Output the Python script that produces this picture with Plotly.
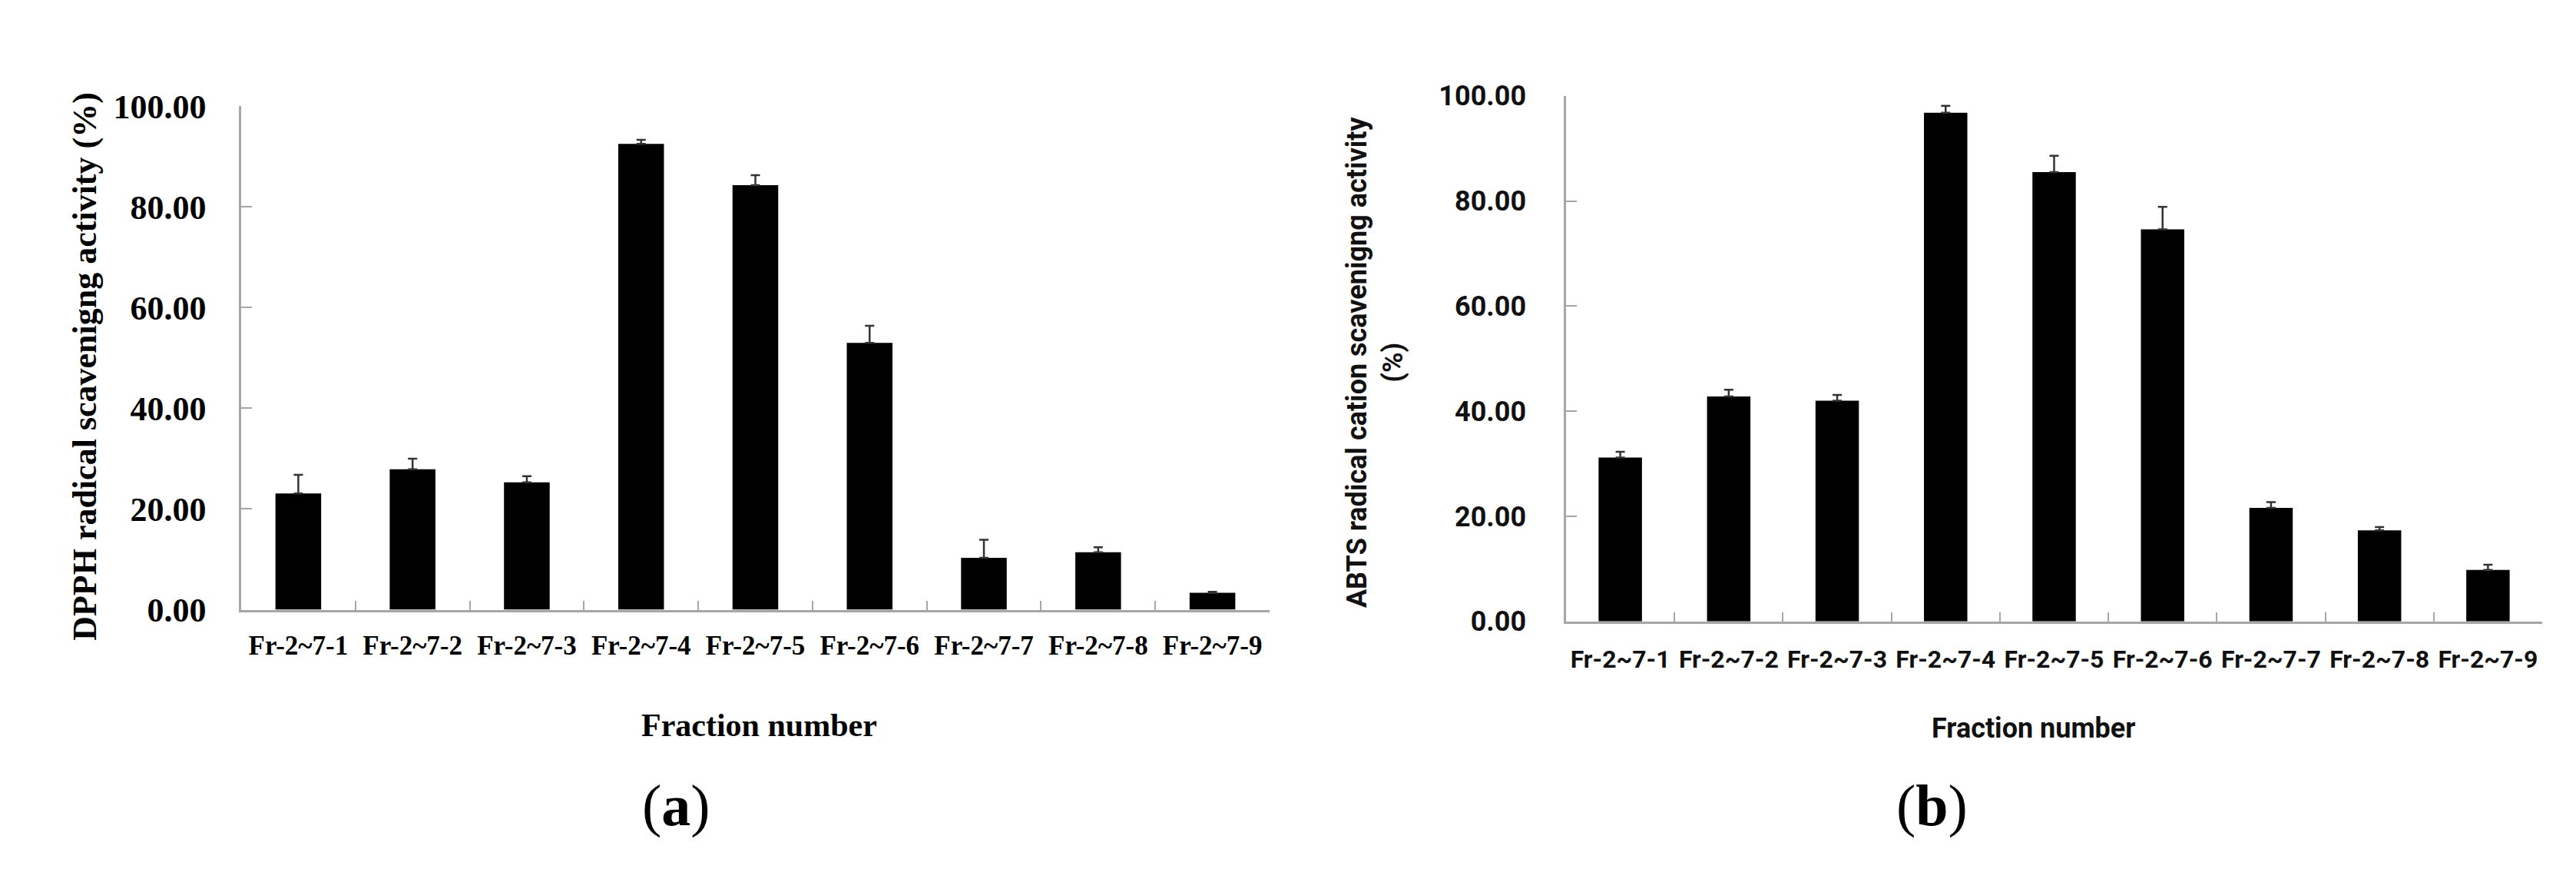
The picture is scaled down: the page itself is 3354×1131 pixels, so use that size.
import plotly.graph_objects as go

categories = ["Fr-2~7-1", "Fr-2~7-2", "Fr-2~7-3", "Fr-2~7-4", "Fr-2~7-5",
              "Fr-2~7-6", "Fr-2~7-7", "Fr-2~7-8", "Fr-2~7-9"]
dpph_values = [23.1, 27.9, 25.3, 92.5, 84.3, 53.0, 10.3, 11.4, 3.35]
dpph_errors = [3.7, 2.1, 1.2, 0.8, 2.0, 3.4, 3.6, 1.0, 0.2]
abts_values = [31.2, 42.8, 42.0, 96.8, 85.5, 74.6, 21.6, 17.35, 9.8]
abts_errors = [1.1, 1.3, 1.1, 1.3, 3.1, 4.3, 1.1, 0.6, 1.0]
y_ticks = [0, 20, 40, 60, 80, 100]

W, H = 3354, 1131
SERIF = "Liberation Serif"
SANS = "Roboto"
AXIS_COLOR = "#a6a6a6"


def px(x):
    return x / W


def py(y):
    return 1 - y / H


fig = go.Figure()

fig.add_trace(go.Bar(
    x=categories, y=dpph_values, xaxis="x", yaxis="y",
    marker=dict(color="black", line=dict(width=0)),
    error_y=dict(type="data", array=dpph_errors, arrayminus=[0] * len(dpph_errors),
                 symmetric=False, color="#333333", thickness=2.5, width=6),
))
fig.add_trace(go.Bar(
    x=categories, y=abts_values, xaxis="x2", yaxis="y2",
    marker=dict(color="black", line=dict(width=0)),
    error_y=dict(type="data", array=abts_errors, arrayminus=[0] * len(abts_errors),
                 symmetric=False, color="#333333", thickness=2.5, width=6),
))

common_x = dict(type="category", showline=True, linecolor=AXIS_COLOR, linewidth=2.5,
                ticks="inside", tickson="boundaries", ticklen=12, tickcolor=AXIS_COLOR,
                tickwidth=2, showgrid=False, zeroline=False, fixedrange=True)
common_y = dict(range=[0, 100], tickvals=y_ticks, tickformat=".2f", showline=True,
                linecolor=AXIS_COLOR, linewidth=2.5, ticks="inside", ticklen=14,
                tickcolor=AXIS_COLOR, tickwidth=2, showgrid=False, zeroline=False)

fig.update_layout(
    width=W, height=H,
    margin=dict(l=0, r=0, t=0, b=0),
    paper_bgcolor="white", plot_bgcolor="white",
    showlegend=False, bargap=0.6,
    xaxis=dict(domain=[px(306), px(1645)], anchor="y",
               tickfont=dict(family=SERIF, size=35, color="black", weight="bold"),
               ticklabelstandoff=14, **common_x),
    yaxis=dict(domain=[py(796), py(111)], anchor="x",
               tickfont=dict(family=SERIF, size=44, color="black", weight="bold"),
               ticklabelstandoff=34, **common_y),
    xaxis2=dict(domain=[px(2031), px(3302)], anchor="y2",
                tickfont=dict(family=SANS, size=32, color="#111111", weight="bold"),
                ticklabelstandoff=19, **common_x),
    yaxis2=dict(domain=[py(812), py(97)], anchor="x2",
                tickfont=dict(family=SANS, size=36, color="#111111", weight="bold"),
                ticklabelstandoff=42, **common_y),
)

annotations = [
    dict(text="DPPH radical scavenigng activity (%)", x=px(103), y=py(465),
         textangle=-90, font=dict(family=SERIF, size=44, color="black", weight="bold")),
    dict(text="ABTS radical cation scavenigng activity<br>(%)", x=px(1782), y=py(460),
         textangle=-90, font=dict(family=SANS, size=36, color="#111111", weight="bold")),
    dict(text="Fraction number", x=px(980), y=py(953),
         font=dict(family=SERIF, size=42, color="black", weight="bold")),
    dict(text="Fraction number", x=px(2639), y=py(958),
         font=dict(family=SANS, size=36, color="#111111", weight="bold")),
    dict(text="(<b>a</b>)", x=px(872), y=py(1063),
         font=dict(family=SERIF, size=76, color="black")),
    dict(text="(<b>b</b>)", x=px(2507), y=py(1063),
         font=dict(family=SERIF, size=76, color="black")),
]
for a in annotations:
    a.update(xref="paper", yref="paper", showarrow=False, xanchor="center", yanchor="middle")
fig.update_layout(annotations=annotations)

fig.write_html("out.html")
